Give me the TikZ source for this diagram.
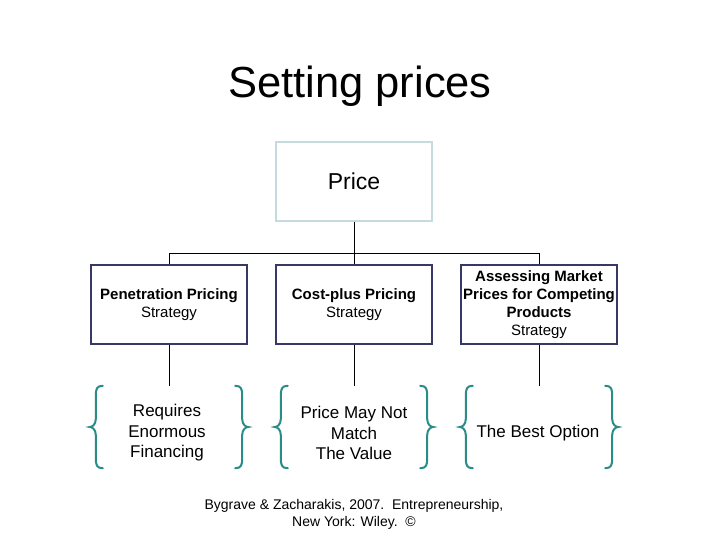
\documentclass[tikz,border=0pt]{standalone}
\usepackage{fontspec}
\setmainfont{Liberation Sans}
\definecolor{navy}{HTML}{383868}
\definecolor{lightb}{HTML}{C4DCE0}
\definecolor{teal2}{HTML}{2A8C88}
\begin{document}
\begin{tikzpicture}[x=1pt,y=-1pt,
  stratbox/.style={draw=navy,line width=2pt,minimum width=156pt,minimum height=79pt,inner sep=0pt,align=center,font=\fontsize{15}{18}\selectfont},
  pricebox/.style={draw=lightb,line width=2pt,minimum width=156pt,minimum height=79pt,inner sep=0pt,align=center,font=\fontsize{23}{27}\selectfont},
  group/.style={minimum width=158pt,minimum height=82pt,inner sep=0pt},
  restext/.style={align=center,font=\fontsize{17}{20.5}\selectfont},
  conn/.style={draw=black,line width=1pt},
  bracestyle/.style={draw=teal2,line width=2pt,line cap=round}
]
\useasboundingbox (0,0) rectangle (720,540);
\node[anchor=base,font=\fontsize{43.5}{50}\selectfont] (title) at (360,98) {Setting prices};
\node[pricebox] (price) at (354,181.5) {Price};
\node[stratbox] (b1) at (169,304.5) {\textbf{Penetration Pricing}\\Strategy};
\node[stratbox] (b2) at (354,304.5) {\textbf{Cost-plus Pricing}\\Strategy};
\node[stratbox] (b3) at (539,304.5) {\textbf{Assessing Market}\\\textbf{Prices for Competing}\\\textbf{Products}\\Strategy};
\coordinate (j) at (354,253);
\draw[conn] (price.south) -- (b2.north);
\draw[conn] (b1.north) -- (b1.north |- j) -- (b3.north |- j) -- (b3.north);
\node[group] (g1) at (169,427) {};
\node[group] (g2) at (354,427) {};
\node[group] (g3) at (539,427) {};
\draw[conn] (b1.south) -- (g1.north);
\draw[conn] (b2.south) -- (g2.north);
\draw[conn] (b3.south) -- (g3.north);
\node[restext] (t1) at (167,433) {Requires\\Enormous\\Financing};
\node[restext] (t2) at (354,433) {Price May Not\\Match\\The Value};
\node[restext] (t3) at (538,433) {The Best Option};
\foreach \g in {g1,g2,g3}{
  \path (\g.north west) coordinate (tl) (\g.south west) coordinate (bl) (\g.west) coordinate (ml)
        (\g.north east) coordinate (tr) (\g.south east) coordinate (br) (\g.east) coordinate (mr);
  \draw[bracestyle] ([xshift=13pt]tl) .. controls ([xshift=7pt]tl) and ([xshift=6pt,yshift=-3pt]tl) .. ([xshift=6pt,yshift=-10pt]tl)
     -- ([xshift=6pt,yshift=8pt]ml) .. controls ([xshift=6pt,yshift=2pt]ml) and ([xshift=2pt]ml) .. (ml)
     .. controls ([xshift=2pt]ml) and ([xshift=6pt,yshift=-2pt]ml) .. ([xshift=6pt,yshift=-8pt]ml)
     -- ([xshift=6pt,yshift=10pt]bl) .. controls ([xshift=6pt,yshift=3pt]bl) and ([xshift=7pt]bl) .. ([xshift=13pt]bl);
  \draw[bracestyle] ([xshift=-13pt]tr) .. controls ([xshift=-7pt]tr) and ([xshift=-6pt,yshift=-3pt]tr) .. ([xshift=-6pt,yshift=-10pt]tr)
     -- ([xshift=-6pt,yshift=8pt]mr) .. controls ([xshift=-6pt,yshift=2pt]mr) and ([xshift=-2pt]mr) .. (mr)
     .. controls ([xshift=-2pt]mr) and ([xshift=-6pt,yshift=-2pt]mr) .. ([xshift=-6pt,yshift=-8pt]mr)
     -- ([xshift=-6pt,yshift=10pt]br) .. controls ([xshift=-6pt,yshift=3pt]br) and ([xshift=-7pt]br) .. ([xshift=-13pt]br);
}
\node[align=center,font=\fontsize{14}{16.5}\selectfont] (cite) at (354,514.5) {Bygrave \& Zacharakis, 2007.\ \ Entrepreneurship,\\New York: Wiley.\ \ ©};
\end{tikzpicture}
\end{document}
